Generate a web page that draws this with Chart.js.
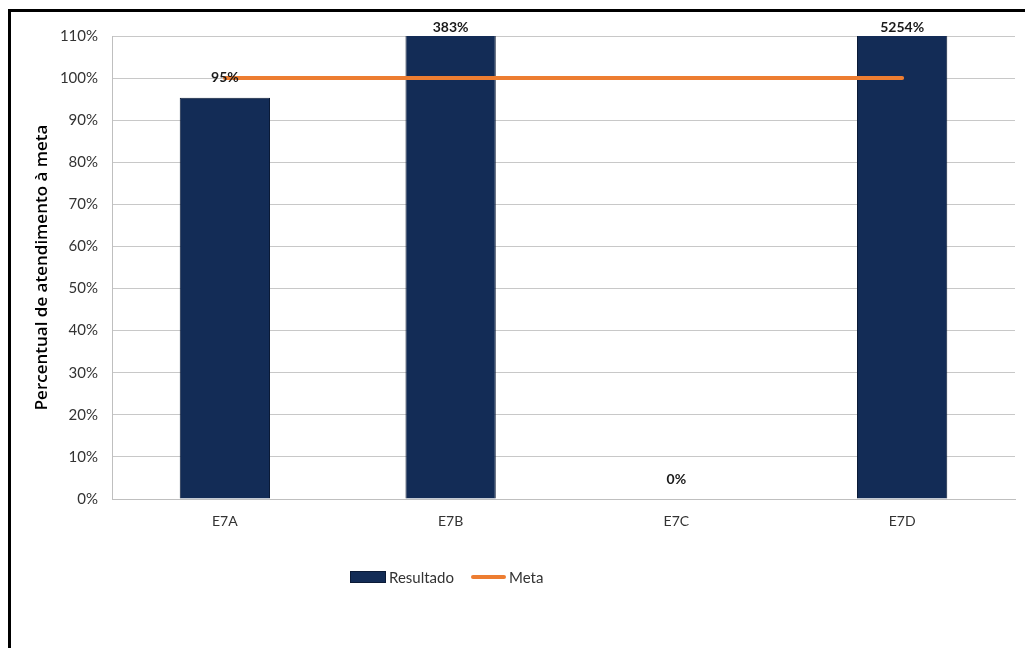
<!DOCTYPE html>
<html>
<head>
<meta charset="utf-8">
<script src="https://cdn.jsdelivr.net/npm/chart.js@4"></script>
<style>
html,body{margin:0;padding:0;background:#fff;}
#wrap{position:relative;width:1025px;height:648px;overflow:hidden;}
#frame{position:absolute;left:8px;top:9px;width:1020px;height:660px;border-top:3px solid #000;border-left:3px solid #000;box-sizing:border-box;}
#c{position:absolute;left:0;top:0;}
#legend{position:absolute;top:567px;left:350px;font-family:Lato,"Open Sans",sans-serif;font-size:15px;color:#333;display:flex;align-items:center;height:20px;}
.sw{display:inline-block;width:34px;height:10px;background:#132C56;border:1px solid #0b1a36;margin-right:3px;}
.ln{display:inline-block;width:35px;height:4px;background:#ED7D31;border-radius:2px;margin-left:17px;margin-right:3px;}
</style>
</head>
<body>
<div id="wrap">
<canvas id="c" width="1025" height="648"></canvas>
<div id="frame"></div>
<div id="legend"><span class="sw"></span><span>Resultado</span><span class="ln"></span><span>Meta</span></div>
</div>
<script>
const categories = ["E7A", "E7B", "E7C", "E7D"];
const resultado = [95.3, 383, 0, 5254];
const resultadoLabels = ["95%", "383%", "0%", "5254%"];
const meta = [100, 100, 100, 100];
const yTicksMax = 110;
const yTickStep = 10;

const labelPlugin = {
  id: 'barLabels',
  afterDatasetsDraw(chart) {
    const ctx = chart.ctx;
    const barMeta = chart.getDatasetMeta(1);
    const area = chart.chartArea;
    ctx.save();
    ctx.font = 'bold 14px Lato, "Open Sans", sans-serif';
    ctx.fillStyle = '#1a1a1a';
    ctx.textAlign = 'center';
    ctx.textBaseline = 'middle';
    barMeta.data.forEach((bar, i) => {
      let y;
      if (bar.y < area.top) y = area.top - 9;
      else y = bar.y - 20;
      ctx.fillText(resultadoLabels[i], bar.x, y);
    });
    ctx.restore();
  }
};

new Chart(document.getElementById('c'), {
  data: {
    labels: categories,
    datasets: [
      {
        type: 'line',
        label: 'Meta',
        data: meta,
        borderColor: '#ED7D31',
        backgroundColor: '#ED7D31',
        borderWidth: 4,
        borderCapStyle: 'round',
        pointRadius: 0,
        order: 0
      },
      {
        type: 'bar',
        label: 'Resultado',
        data: resultado,
        backgroundColor: '#132C56',
        borderColor: '#0b1a36',
        borderWidth: 1,
        barPercentage: 0.4,
        categoryPercentage: 1.0,
        order: 1
      }
    ]
  },
  options: {
    responsive: false,
    animation: false,
    devicePixelRatio: 1,
    layout: { padding: { left: 26, top: 36, right: 10, bottom: 0 } },
    plugins: { legend: { display: false }, tooltip: { enabled: false } },
    scales: {
      x: {
        offset: true,
        grid: { display: false, drawTicks: false },
        border: { display: true, color: '#bfbfbf', width: 1 },
        ticks: { color: '#333', padding: 14, font: { family: 'Lato, "Open Sans", sans-serif', size: 14 } },
        afterFit(scale) { scale.height = 149; }
      },
      y: {
        min: 0,
        max: yTicksMax,
        grid: { color: '#c8c8c8', drawTicks: false, lineWidth: 1 },
        border: { display: true, color: '#bfbfbf' },
        ticks: {
          stepSize: yTickStep,
          padding: 14,
          color: '#333',
          font: { family: 'Lato, "Open Sans", sans-serif', size: 15 },
          callback: v => v + '%'
        },
        title: {
          display: true,
          text: 'Percentual de atendimento à meta',
          color: '#000',
          padding: { top: 6, bottom: 0 },
          font: { family: '"Open Sans", sans-serif', size: 17, weight: '600' }
        },
        afterFit(scale) { scale.width = 86; }
      }
    }
  },
  plugins: [labelPlugin]
});
</script>
</body>
</html>
